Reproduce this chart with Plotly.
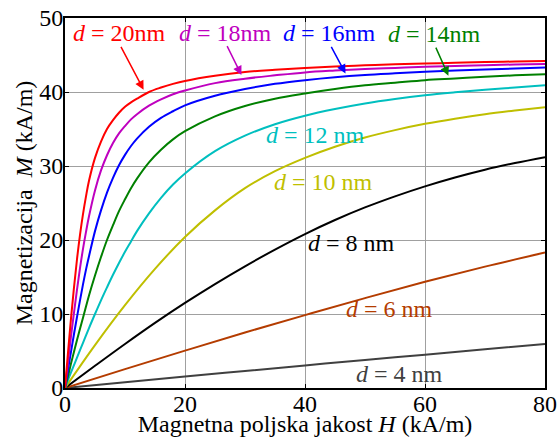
import plotly.graph_objects as go

# H (kA/m) grids and M (kA/m) values
H_dense = [0, 0.5, 1, 1.5, 2, 2.5, 3, 3.5, 4, 5, 6, 7, 8, 9, 10, 11, 12, 14, 16, 18, 20,
           25, 30, 35, 40, 45, 50, 55, 60, 65, 70, 75, 80]
M_d20 = [0, 4.8, 9.4, 13.6, 17.4, 20.7, 23.5, 25.9, 28.0, 31.1, 33.3, 35.0, 36.2, 37.2, 38.0, 38.6, 39.1, 40.0, 40.6, 41.1, 41.5,
         42.2, 42.7, 43.0, 43.25, 43.45, 43.6, 43.75, 43.85, 43.95, 44.05, 44.12, 44.2]
M_d18 = [0, 3.5, 7.0, 10.2, 13.3, 16.2, 18.8, 21.1, 23.2, 26.7, 29.4, 31.45, 33.1, 34.4, 35.4, 36.3, 37.0, 38.15, 39.0, 39.7, 40.2,
         41.2, 41.8, 42.25, 42.65, 42.9, 43.1, 43.25, 43.4, 43.52, 43.62, 43.72, 43.8]
M_d16 = [0, 2.5, 4.9, 7.3, 9.6, 11.85, 14.0, 16.0, 17.8, 21.2, 24.0, 26.4, 28.4, 30.1, 31.5, 32.7, 33.7, 35.3, 36.5, 37.4, 38.2,
         39.5, 40.4, 41.1, 41.6, 42.0, 42.3, 42.52, 42.72, 42.9, 43.05, 43.18, 43.3]
M_d14 = [0, 1.6, 3.3, 4.9, 6.5, 8.0, 9.5, 11.0, 12.5, 15.2, 17.7, 20.0, 22.0, 23.9, 25.5, 27.0, 28.3, 30.5, 32.2, 33.6, 34.7,
         36.7, 38.1, 39.1, 39.8, 40.4, 40.9, 41.25, 41.6, 41.82, 42.05, 42.25, 42.4]

H_d12 = [0, 1, 2, 3, 4, 5, 6, 7, 8, 9, 10, 11, 12, 14, 16, 18, 20, 25, 30, 35, 40, 45, 50, 55, 60, 65, 70, 75, 80]
M_d12 = [0, 2.1, 4.1, 6.1, 8.1, 10.0, 11.85, 13.6, 15.3, 16.9, 18.4, 19.8, 21.2, 23.6, 25.7, 27.5, 29.0, 32.0, 34.1, 35.65,
         36.8, 37.7, 38.45, 39.05, 39.55, 39.95, 40.3, 40.6, 40.9]

H_d10 = [0, 5, 10, 15, 20, 25, 30, 35, 40, 45, 50, 55, 60, 65, 70, 75, 80]
M_d10 = [0, 5.8, 11.2, 16.1, 20.4, 24.0, 27.0, 29.3, 31.1, 32.6, 33.85, 34.85, 35.7, 36.4, 37.0, 37.5, 37.95]

H_d8 = [0, 5, 10, 15, 20, 25, 30, 35, 40, 45, 50, 55, 60, 65, 70, 75, 80]
M_d8 = [0, 3.0, 5.95, 8.8, 11.5, 14.05, 16.45, 18.7, 20.8, 22.7, 24.4, 25.9, 27.25, 28.45, 29.5, 30.4, 31.2]

H_d6 = [0, 10, 20, 30, 40, 50, 60, 70, 80]
M_d6 = [0, 2.55, 5.05, 7.5, 9.85, 12.15, 14.35, 16.4, 18.3]

H_d4 = [0, 10, 20, 30, 40, 50, 60, 70, 80]
M_d4 = [0, 0.78, 1.55, 2.3, 3.05, 3.8, 4.5, 5.25, 5.95]

x_ticks = [0, 20, 40, 60, 80]
y_ticks = [0, 10, 20, 30, 40, 50]

series = [
    ("d = 4 nm", H_d4, M_d4, "#404040"),
    ("d = 6 nm", H_d6, M_d6, "#b43c00"),
    ("d = 8 nm", H_d8, M_d8, "#000000"),
    ("d = 10 nm", H_d10, M_d10, "#bfbf00"),
    ("d = 12 nm", H_d12, M_d12, "#00bfbf"),
    ("d = 14 nm", H_dense, M_d14, "#008000"),
    ("d = 16 nm", H_dense, M_d16, "#0000ff"),
    ("d = 18 nm", H_dense, M_d18, "#bf00bf"),
    ("d = 20 nm", H_dense, M_d20, "#ff0000"),
]

fig = go.Figure()
for name, hx, my, col in series:
    fig.add_trace(go.Scatter(x=hx, y=my, mode="lines", name=name,
                             line=dict(color=col, width=2, shape="spline", smoothing=1),
                             showlegend=False, hoverinfo="skip"))

FONT = "Liberation Serif"

labels = [
    ("<i>d</i> = 20nm", 9.0, 48.0, "#ff0000"),
    ("<i>d</i> = 18nm", 26.75, 48.0, "#bf00bf"),
    ("<i>d</i> = 16nm", 44.0, 47.95, "#0000ff"),
    ("<i>d</i> = 14nm", 61.5, 47.85, "#008000"),
    ("<i>d</i> = 12 nm", 41.7, 34.25, "#00bfbf"),
    ("<i>d</i> = 10 nm", 43.1, 27.9, "#bfbf00"),
    ("<i>d</i> = 8 nm", 47.7, 19.55, "#000000"),
    ("<i>d</i> = 6 nm", 54.1, 10.65, "#b43c00"),
    ("<i>d</i> = 4 nm", 55.75, 1.85, "#404040"),
]
for txt, lx, ly, col in labels:
    fig.add_annotation(x=lx, y=ly, text=txt, showarrow=False, xanchor="center", yanchor="middle",
                       font=dict(family=FONT, size=24, color=col))

arrows = [
    (9.2, 46.3, 13.1, 40.3, "#ff0000"),
    (26.9, 46.4, 29.4, 42.3, "#bf00bf"),
    (44.25, 46.3, 46.75, 42.5, "#0000ff"),
    (61.7, 46.2, 63.9, 42.2, "#008000"),
]
for tx, ty, hx, hy, col in arrows:
    fig.add_annotation(x=hx, y=hy, ax=tx, ay=ty, xref="x", yref="y", axref="x", ayref="y",
                       text="", showarrow=True, arrowhead=2, arrowsize=1.2, arrowwidth=1.5,
                       arrowcolor=col)

fig.update_layout(
    width=558, height=437,
    margin=dict(l=65, r=13, t=18, b=49),
    paper_bgcolor="white", plot_bgcolor="white",
    font=dict(family=FONT, size=24, color="black"),
)
fig.update_xaxes(
    range=[0, 80], tickvals=x_ticks, ticktext=[str(v) for v in x_ticks],
    showgrid=True, gridcolor="#a0a0a0", gridwidth=1, zeroline=False,
    showline=True, linecolor="black", linewidth=2, mirror="ticks",
    ticks="inside", ticklen=4, tickcolor="black", automargin=False,
    ticklabelstandoff=-7,
    title=dict(text="Magnetna poljska jakost <i>H</i> (kA/m)", standoff=7,
               font=dict(family=FONT, size=24)),
    tickfont=dict(family=FONT, size=24),
)
fig.update_yaxes(
    range=[0, 50], tickvals=y_ticks, ticktext=[str(v) for v in y_ticks],
    showgrid=True, gridcolor="#a0a0a0", gridwidth=1, zeroline=False,
    showline=True, linecolor="black", linewidth=2, mirror="ticks",
    ticks="inside", ticklen=4, tickcolor="black", automargin=False,
    ticklabelstandoff=-5,
    title=dict(text="Magnetizacija\u00a0\u00a0<i>M</i> (kA/m)", standoff=0,
               font=dict(family=FONT, size=24)),
    tickfont=dict(family=FONT, size=24),
)

fig.write_html("out.html")
